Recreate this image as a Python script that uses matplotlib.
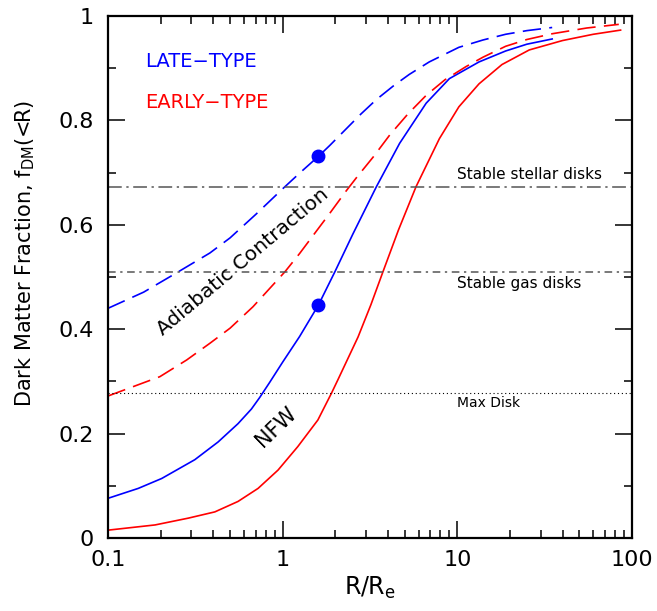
import numpy as np
import matplotlib
matplotlib.use("Agg")
import matplotlib.pyplot as plt
from matplotlib.ticker import FixedLocator, LogLocator, NullFormatter

# values
late_nfw_x = [0.1, 0.149, 0.203, 0.314, 0.427, 0.555, 0.662, 0.738, 0.842, 1.0, 1.25,
              1.6, 1.99, 2.52, 3.44, 4.67, 6.63, 9.0, 13.3, 18.9, 25.0, 34.9]
late_nfw_y = [0.076, 0.095, 0.114, 0.150, 0.184, 0.219, 0.247, 0.269, 0.298, 0.337,
              0.386, 0.446, 0.510, 0.582, 0.673, 0.756, 0.833, 0.880, 0.912, 0.933,
              0.946, 0.956]

early_nfw_x = [0.1, 0.186, 0.288, 0.409, 0.555, 0.723, 0.94, 1.22, 1.59, 1.9, 2.07,
               2.7, 3.2, 3.75, 4.6, 5.8, 7.89, 10.2, 13.3, 18.0, 25.8, 40.0, 60.0, 86.0]
early_nfw_y = [0.015, 0.025, 0.038, 0.050, 0.070, 0.095, 0.130, 0.175, 0.226, 0.277,
               0.303, 0.385, 0.447, 0.510, 0.590, 0.673, 0.765, 0.826, 0.870, 0.907,
               0.935, 0.953, 0.965, 0.973]

late_ac_x = [0.1, 0.16, 0.247, 0.383, 0.5, 0.707, 1.0, 1.25, 1.6, 1.86, 2.22, 2.8,
             3.44, 4.3, 5.3, 6.9, 10.2, 14.0, 18.9, 25.0, 34.9]
late_ac_y = [0.44, 0.471, 0.508, 0.546, 0.575, 0.621, 0.669, 0.699, 0.731, 0.752, 0.778,
             0.812, 0.84, 0.866, 0.888, 0.912, 0.940, 0.954, 0.965, 0.972, 0.978]

early_ac_x = [0.1, 0.198, 0.282, 0.383, 0.5, 0.676, 1.03, 1.25, 1.56, 1.86, 2.31, 2.64,
              3.3, 4.1, 5.2, 6.63, 8.5, 11.2, 14.0, 18.9, 25.0, 34.9, 55.0, 84.0]
early_ac_y = [0.272, 0.309, 0.341, 0.373, 0.402, 0.443, 0.51, 0.545, 0.588, 0.622, 0.665,
              0.69, 0.73, 0.772, 0.812, 0.848, 0.878, 0.903, 0.921, 0.942, 0.955, 0.966,
              0.977, 0.984]

dot_x = [1.6, 1.6]
dot_y = [0.731, 0.446]

stellar_level = 0.672
gas_level = 0.51
maxdisk_level = 0.277

x_ticks = [0.1, 1, 10, 100]
x_tick_labels = ["0.1", "1", "10", "100"]
y_ticks = [0, 0.2, 0.4, 0.6, 0.8, 1.0]
y_tick_labels = ["0", "0.2", "0.4", "0.6", "0.8", "1"]

plt.rcParams['font.family'] = ['DejaVu Sans']

fig = plt.figure(figsize=(6.57, 6.11), dpi=100)
ax = fig.add_axes([0.1644, 0.1195, 0.7976, 0.8543])

dash = (0, (11, 5))
ax.plot(late_nfw_x, late_nfw_y, color='blue', lw=1.2)
ax.plot(early_nfw_x, early_nfw_y, color='red', lw=1.2)
ax.plot(late_ac_x, late_ac_y, color='blue', lw=1.2, linestyle=dash)
ax.plot(early_ac_x, early_ac_y, color='red', lw=1.2, linestyle=dash)
ax.plot(dot_x, dot_y, 'o', color='blue', ms=9, mec='blue')

ax.axhline(stellar_level, color='#555555', lw=1.1, linestyle=(0, (9, 3, 1.5, 3)))
ax.axhline(gas_level, color='#555555', lw=1.1, linestyle=(0, (5, 3, 1.5, 3)))
ax.axhline(maxdisk_level, color='black', lw=0.8, linestyle=(0, (1, 2.5)))

ax.text(10.0, 0.697, "Stable stellar disks", fontsize=11, ha='left', va='center')
ax.text(10.0, 0.488, "Stable gas disks", fontsize=11, ha='left', va='center')
ax.text(10.0, 0.259, "Max Disk", fontsize=10, ha='left', va='center')

ax.text(0.163, 0.912, "LATE\u2212TYPE", color='blue', fontsize=14, ha='left', va='center')
ax.text(0.163, 0.835, "EARLY\u2212TYPE", color='red', fontsize=14, ha='left', va='center')

ax.text(0.59, 0.529, "Adiabatic Contraction", fontsize=14.5, rotation=40,
        ha='center', va='center', rotation_mode='anchor')
ax.text(0.92, 0.213, "NFW", fontsize=15, rotation=44,
        ha='center', va='center', rotation_mode='anchor')

ax.set_xscale('log')
ax.set_xlim(0.1, 100)
ax.set_ylim(0, 1)

ax.xaxis.set_major_locator(FixedLocator(x_ticks))
ax.set_xticklabels(x_tick_labels)
ax.xaxis.set_minor_locator(LogLocator(base=10, subs=np.arange(2, 10)))
ax.xaxis.set_minor_formatter(NullFormatter())
ax.yaxis.set_major_locator(FixedLocator(y_ticks))
ax.set_yticklabels(y_tick_labels)
ax.yaxis.set_minor_locator(FixedLocator([0.1, 0.3, 0.5, 0.7, 0.9]))

ax.tick_params(which='both', direction='in', top=True, right=True, width=1.1,
               labelsize=16)
ax.tick_params(axis='x', which='major', pad=9)
ax.tick_params(axis='y', which='major', pad=10)
ax.tick_params(which='major', length=12)
ax.tick_params(which='minor', length=6)
for s in ax.spines.values():
    s.set_linewidth(1.6)

ax.set_xlabel("R/R$_{\\rm e}$", fontsize=17, labelpad=3)
ax.set_ylabel("Dark Matter Fraction, f$_{\\rm DM}$(<R)", fontsize=15)
ax.yaxis.set_label_coords(-0.135, 0.546)

fig.savefig("out.png", dpi=100)
